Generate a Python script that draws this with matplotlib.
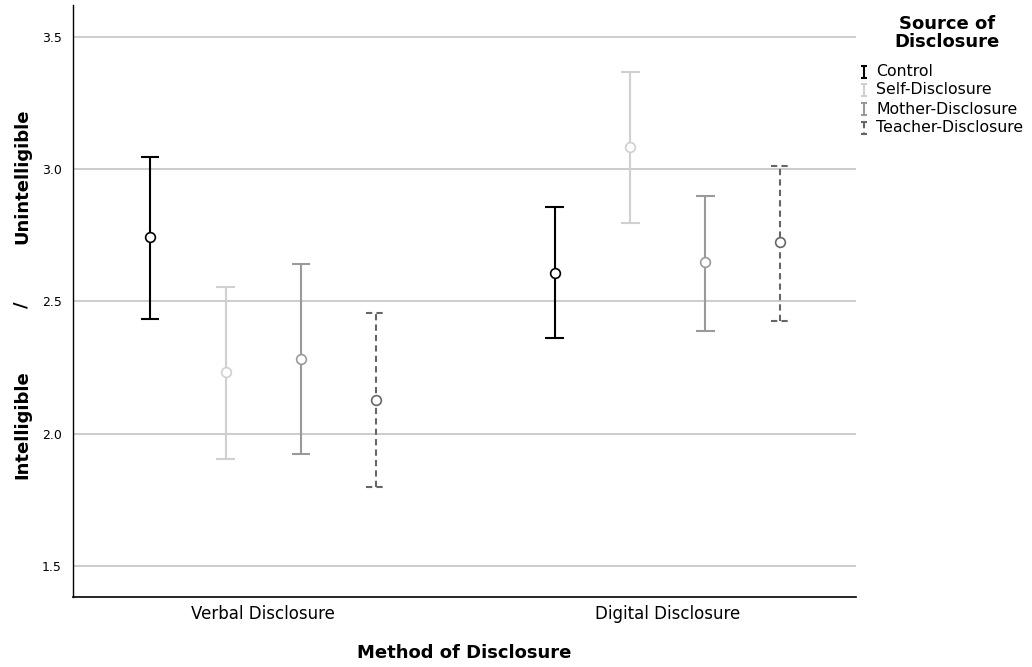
import matplotlib
matplotlib.use("Agg")
import matplotlib.pyplot as plt
import numpy as np

categories = ["Verbal Disclosure", "Digital Disclosure"]
sources = ["Control", "Self-Disclosure", "Mother-Disclosure", "Teacher-Disclosure"]
means = {
    "Control": [2.742, 2.609],
    "Self-Disclosure": [2.232, 3.085],
    "Mother-Disclosure": [2.281, 2.647],
    "Teacher-Disclosure": [2.126, 2.723],
}
lower = {
    "Control": [2.432, 2.360],
    "Self-Disclosure": [1.904, 2.798],
    "Mother-Disclosure": [1.923, 2.387],
    "Teacher-Disclosure": [1.798, 2.425],
}
upper = {
    "Control": [3.047, 2.855],
    "Self-Disclosure": [2.553, 3.368],
    "Mother-Disclosure": [2.640, 2.900],
    "Teacher-Disclosure": [2.455, 3.013],
}
yticks = [1.5, 2.0, 2.5, 3.0, 3.5]

colors = {"Control": "#000000", "Self-Disclosure": "#d0d0d0",
          "Mother-Disclosure": "#9a9a9a", "Teacher-Disclosure": "#666666"}
styles = {"Control": "-", "Self-Disclosure": "-", "Mother-Disclosure": "-",
          "Teacher-Disclosure": (0, (3, 2))}
offsets = [-0.28, -0.093, 0.093, 0.278]

plt.rcParams['font.family'] = ['DejaVu Sans']
fig = plt.figure(figsize=(10.32, 6.67), dpi=100)
ax = fig.add_axes([73/1032, 1-597/667, (856-73)/1032, (597-5)/667])

for s in yticks:
    ax.axhline(s, color="#c4c4c4", lw=1.2, zorder=0)

x = np.arange(len(categories))
for i, src in enumerate(sources):
    m = np.array(means[src]); lo = np.array(lower[src]); hi = np.array(upper[src])
    xs = x + offsets[i]
    c = colors[src]
    ax.vlines(xs, lo, hi, colors=c, linestyles=styles[src], lw=1.5, zorder=2)
    for xv, l, h in zip(xs, lo, hi):
        ax.hlines([l, h], xv - 0.023, xv + 0.023, colors=c, linestyles=styles[src], lw=1.5, zorder=2)
    ax.plot(xs, m, 'o', ms=7, mfc='white', mec=c, mew=1.2, zorder=3, ls='none')

ax.set_xlim(-0.470, 1.465)
ax.set_ylim(1.383, 3.62)
ax.set_yticks(yticks)
ax.set_yticklabels([f"{v:.1f}" for v in yticks], fontsize=9)
ax.set_xticks(x)
ax.set_xticklabels(categories, fontsize=12)
ax.tick_params(axis='both', length=0)
ax.tick_params(axis='y', pad=8)
ax.tick_params(axis='x', pad=6)
for sp in ["top", "right"]:
    ax.spines[sp].set_visible(False)
ax.spines["left"].set_linewidth(1.0)
ax.spines["bottom"].set_linewidth(1.2)
fig.text(464/1032, 1-653/667, "Method of Disclosure", ha='center', va='center',
         fontsize=13, fontweight='bold')

# y label pieces
fig.text(22/1032, 1-425/667, "Intelligible", rotation=90, ha='center', va='center', fontsize=13, fontweight='bold')
fig.text(22/1032, 1-305/667, "/", rotation=90, ha='center', va='center', fontsize=13, fontweight='bold')
fig.text(22/1032, 1-176/667, "Unintelligible", rotation=90, ha='center', va='center', fontsize=13, fontweight='bold')

# legend
fig.text(947/1032, 1-33/667, "Source of\nDisclosure", ha='center', va='center', fontsize=13,
         fontweight='bold', linespacing=0.95)
lax = fig.add_axes([0, 0, 1, 1], facecolor='none')
lax.set_xlim(0, 1032); lax.set_ylim(667, 0); lax.axis('off')
rows = [72, 90, 109, 128]
for src, yr in zip(sources, rows):
    c = colors[src]
    lax.vlines(864, yr - 6, yr + 6, colors=c, linestyles=styles[src], lw=1.5)
    lax.hlines([yr - 6, yr + 6], 861, 867, colors=c, lw=1.5)
    lax.text(876, yr, src, ha='left', va='center', fontsize=11.3)

fig.savefig("out.png", dpi=100)
